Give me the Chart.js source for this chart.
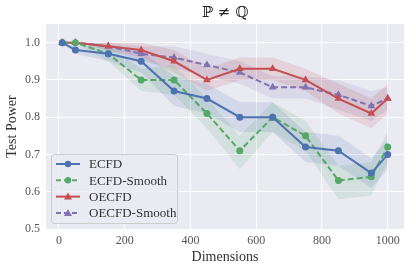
<!DOCTYPE html>
<html>
<head>
<meta charset="utf-8">
<script src="https://cdn.jsdelivr.net/npm/chart.js@4"></script>
<style>
  html, body { margin: 0; padding: 0; background: #fff; }
  #wrap { width: 416px; height: 271px; position: relative; }
</style>
</head>
<body>
<div id="wrap"><canvas id="c" width="416" height="271"></canvas></div>
<script>
// data
const dims = [10, 50, 150, 250, 350, 450, 550, 650, 750, 850, 950, 1000];

const ecfd       = [1.00, 0.98, 0.97, 0.95, 0.87, 0.85, 0.80, 0.80, 0.72, 0.71, 0.65, 0.70];
const ecfdLo     = [1.00, 0.97, 0.95, 0.92, 0.83, 0.81, 0.76, 0.76, 0.68, 0.67, 0.61, 0.66];
const ecfdHi     = [1.00, 0.99, 0.99, 0.98, 0.91, 0.89, 0.84, 0.84, 0.76, 0.75, 0.69, 0.74];

const ecfdS      = [1.00, 1.00, 0.97, 0.90, 0.90, 0.81, 0.71, 0.80, 0.75, 0.63, 0.64, 0.72];
const ecfdSLo    = [1.00, 1.00, 0.95, 0.87, 0.86, 0.77, 0.66, 0.76, 0.71, 0.58, 0.59, 0.68];
const ecfdSHi    = [1.00, 1.00, 0.99, 0.93, 0.94, 0.85, 0.75, 0.84, 0.79, 0.67, 0.68, 0.76];

const oecfd      = [1.00, 1.00, 0.99, 0.98, 0.95, 0.90, 0.93, 0.93, 0.90, 0.85, 0.81, 0.85];
const oecfdLo    = [1.00, 1.00, 0.98, 0.96, 0.92, 0.87, 0.90, 0.90, 0.87, 0.81, 0.77, 0.81];
const oecfdHi    = [1.00, 1.00, 1.00, 1.00, 0.98, 0.93, 0.96, 0.96, 0.93, 0.89, 0.85, 0.89];

const oecfdS     = [1.00, 1.00, 0.99, 0.97, 0.96, 0.94, 0.92, 0.88, 0.88, 0.86, 0.83, 0.85];
const oecfdSLo   = [1.00, 1.00, 0.98, 0.95, 0.93, 0.91, 0.89, 0.85, 0.85, 0.82, 0.79, 0.82];
const oecfdSHi   = [1.00, 1.00, 1.00, 0.99, 0.99, 0.97, 0.95, 0.91, 0.91, 0.90, 0.87, 0.88];

const xTicks = [0, 200, 400, 600, 800, 1000];
const yTicks = [0.5, 0.6, 0.7, 0.8, 0.9, 1.0];

const SERIF = "'Liberation Serif', 'DejaVu Serif', serif";

const pts = arr => arr.map((v, i) => ({ x: dims[i], y: v }));

const series = [
  { label: 'ECFD',         y: ecfd,   lo: ecfdLo,   hi: ecfdHi,   color: '#4C72B0', band: 'rgba(76,114,176,0.15)', dash: [],     marker: 'circle' },
  { label: 'ECFD-Smooth',  y: ecfdS,  lo: ecfdSLo,  hi: ecfdSHi,  color: '#55A868', band: 'rgba(85,168,104,0.15)', dash: [6, 3], marker: 'circle' },
  { label: 'OECFD',        y: oecfd,  lo: oecfdLo,  hi: oecfdHi,  color: '#C44E52', band: 'rgba(196,78,82,0.15)',  dash: [],     marker: 'triangle' },
  { label: 'OECFD-Smooth', y: oecfdS, lo: oecfdSLo, hi: oecfdSHi, color: '#8172B2', band: 'rgba(129,114,178,0.15)', dash: [6, 3], marker: 'triangle' },
];

let datasets = [];
series.forEach(s => {
  datasets.push({ data: pts(s.lo), borderWidth: 0, pointRadius: 0, fill: false, order: 10 });
  datasets.push({ data: pts(s.hi), borderWidth: 0, pointRadius: 0, fill: '-1', backgroundColor: s.band, order: 10 });
});
series.forEach(s => {
  datasets.push({
    label: s.label, data: pts(s.y), borderColor: s.color, backgroundColor: s.color,
    borderWidth: 2, borderDash: s.dash, pointStyle: s.marker,
    pointRadius: s.marker === 'circle' ? 3.5 : 4.5, pointBorderWidth: 0,
    fill: false, tension: 0, order: 1
  });
});

// title + legend drawn inside the plot like the matplotlib figure
const figText = {
  id: 'figText',
  afterDraw(chart) {
    const ctx = chart.ctx, a = chart.chartArea;
    ctx.save();
    ctx.fillStyle = '#262626';
    ctx.font = "15px 'DejaVu Serif', serif";
    ctx.textAlign = 'center';
    ctx.textBaseline = 'middle';
    ctx.fillText('\u2119 \u2260 \u211A', (a.left + a.right) / 2, 13);

    // legend box
    const bx = 51, by = 154, bw = 126, bh = 69;
    ctx.fillStyle = 'rgba(234,234,242,0.8)';
    ctx.strokeStyle = '#cccccc';
    ctx.lineWidth = 1;
    ctx.beginPath();
    ctx.roundRect(bx + 0.5, by + 0.5, bw, bh, 3);
    ctx.fill();
    ctx.stroke();
    series.forEach((s, i) => {
      const y = 164 + i * 16.3;
      ctx.strokeStyle = s.color;
      ctx.fillStyle = s.color;
      ctx.lineWidth = 2;
      ctx.setLineDash(s.dash.length ? [5, 3] : []);
      ctx.beginPath();
      ctx.moveTo(56, y);
      ctx.lineTo(80, y);
      ctx.stroke();
      ctx.setLineDash([]);
      ctx.beginPath();
      if (s.marker === 'circle') {
        ctx.arc(68, y, 3.2, 0, Math.PI * 2);
      } else {
        ctx.moveTo(68, y - 4);
        ctx.lineTo(72, y + 3);
        ctx.lineTo(64, y + 3);
        ctx.closePath();
      }
      ctx.fill();
      ctx.fillStyle = '#333333';
      ctx.font = '13px ' + SERIF;
      ctx.textAlign = 'left';
      ctx.fillText(s.label, 89, y + 1);
    });
    ctx.restore();
  }
};

const plotBg = {
  id: 'plotBg',
  beforeDraw(chart) {
    const ctx = chart.ctx, a = chart.chartArea;
    ctx.save();
    ctx.fillStyle = '#EAEAF2';
    ctx.fillRect(a.left, a.top, a.right - a.left, a.bottom - a.top);
    ctx.restore();
  }
};

new Chart(document.getElementById('c'), {
  type: 'line',
  data: { datasets: datasets },
  options: {
    responsive: false,
    animation: false,
    layout: { padding: { top: 24, right: 12, left: 4, bottom: 0 } },
    plugins: { legend: { display: false }, tooltip: { enabled: false }, filler: { propagate: false } },
    scales: {
      x: {
        type: 'linear', min: -39.5, max: 1049.5,
        afterBuildTicks: ax => { ax.ticks = xTicks.map(v => ({ value: v })); },
        afterFit: ax => { ax.height = 42; },
        grid: { color: '#ffffff', lineWidth: 1, drawTicks: false },
        border: { display: false },
        ticks: { color: '#555555', font: { family: SERIF, size: 12 }, padding: 5, maxRotation: 0, callback: v => String(v) },
        title: { display: true, text: 'Dimensions', color: '#333333', font: { family: SERIF, size: 14 }, padding: { top: 0, bottom: 5 } }
      },
      y: {
        min: 0.5, max: 1.05,
        afterBuildTicks: ax => { ax.ticks = yTicks.map(v => ({ value: v })); },
        afterFit: ax => { ax.width = 42; },
        grid: { color: '#ffffff', lineWidth: 1, drawTicks: false },
        border: { display: false },
        ticks: { color: '#555555', font: { family: SERIF, size: 12 }, padding: 6, callback: v => v.toFixed(1) },
        title: { display: true, text: 'Test Power', color: '#333333', font: { family: SERIF, size: 14 }, padding: { top: 0, bottom: 0 } }
      }
    }
  },
  plugins: [plotBg, figText]
});
</script>
</body>
</html>
